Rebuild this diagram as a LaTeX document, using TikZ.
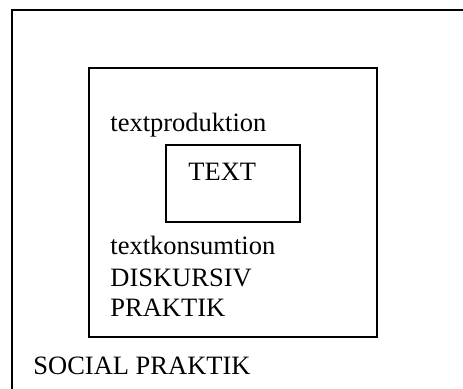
\documentclass[tikz,border=0pt]{standalone}
\usepackage{fontspec}
\setmainfont{Liberation Serif}
\usetikzlibrary{positioning}

\tikzset{
  frame/.style={draw, line width=1pt},
  txt/.style={anchor=base west, inner sep=0pt, font=\fontsize{13.25}{15.5}\selectfont},
}

\begin{document}
\begin{tikzpicture}[x=0.5pt, y=-0.5pt]
	\useasboundingbox (0,0) rectangle (463,389);
	% social praktik, runs off the page to the right and below
	\draw[frame] (12,420) -- (12,10) -- (490,10);
	% diskursiv praktik and text
	\draw[frame] (89,68) rectangle (377,337);
	\draw[frame] (166,145) rectangle (300,222);
	\node[txt] (prod) at (110,132) {textproduktion};
	\node[txt] (text) at (188,181) {TEXT};
	\node[txt] (kons) at (110,255) {textkonsumtion};
	\node[txt] (disk) at (110,286.5) {DISKURSIV};
	\node[txt] (prak) at (110,316.5) {PRAKTIK};
	\node[txt] (social) at (33,375) {SOCIAL PRAKTIK};
\end{tikzpicture}
\end{document}
